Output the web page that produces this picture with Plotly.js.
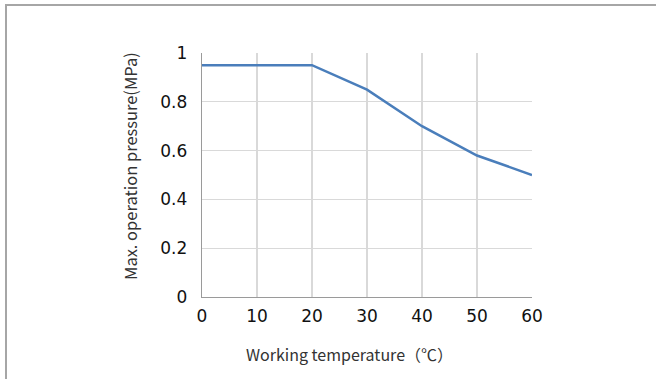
<!DOCTYPE html>
<html>
<head>
<meta charset="utf-8">
<script src="https://cdn.plot.ly/plotly-3.0.1.min.js"></script>
<style>
html,body{margin:0;padding:0;background:#fff;}
#frame{position:absolute;left:5px;top:4px;width:700px;height:400px;border-top:2px solid #a6a6a6;border-left:2px solid #a6a6a6;}
#chart{position:absolute;left:0;top:0;width:656px;height:379px;}
</style>
</head>
<body>
<div id="frame"></div>
<div id="chart"></div>
<script>
const temperature = [0, 10, 20, 30, 40, 50, 60];
const pressure = [0.95, 0.95, 0.95, 0.85, 0.70, 0.58, 0.50];
const pressureTicks = [0, 0.2, 0.4, 0.6, 0.8, 1];
const xTitle = 'Working temperature（℃）';
const yTitle = 'Max. operation pressure(MPa)';

const trace = {
  x: temperature, y: pressure, type: 'scatter', mode: 'lines',
  line: {color: '#4a7ebb', width: 2.5}, hoverinfo: 'skip'
};
const xTitleFont = {size: 16, family: '"Noto Sans CJK SC", "Noto Sans", sans-serif', color: '#333'};
const yTitleFont = {size: 16.5, family: '"Noto Sans CJK SC", "Noto Sans", sans-serif', color: '#333'};
const tickFont = {size: 17, family: '"DejaVu Sans", sans-serif', color: '#111'};
const layout = {
  width: 656, height: 379,
  margin: {l: 202, r: 124, t: 53, b: 82},
  paper_bgcolor: 'rgba(0,0,0,0)', plot_bgcolor: 'rgba(0,0,0,0)',
  showlegend: false,
  font: {family: '"DejaVu Sans", sans-serif', color: '#111', size: 17},
  xaxis: {
    range: [0, 60], tickvals: temperature, showgrid: true, gridcolor: '#d9d9d9', gridwidth: 1.3,
    showline: true, linecolor: '#9a9a9a', linewidth: 1.3, zeroline: false,
    ticks: '', ticklabelstandoff: 3, tickfont: tickFont
  },
  yaxis: {
    range: [0, 1], tickvals: pressureTicks, showgrid: true, gridcolor: '#d9d9d9', gridwidth: 1.3,
    showline: true, linecolor: '#9a9a9a', linewidth: 1.3, zeroline: false,
    ticks: '', ticklabelstandoff: 10, tickfont: tickFont
  },
  annotations: [
    {text: xTitle, xref: 'paper', yref: 'paper', x: (349 - 202) / 330, y: (297 - 354) / 244,
     xanchor: 'center', yanchor: 'middle', showarrow: false, font: xTitleFont},
    {text: yTitle, xref: 'paper', yref: 'paper', x: (130 - 202) / 330, y: (297 - 166) / 244,
     xanchor: 'center', yanchor: 'middle', textangle: -90, showarrow: false, font: yTitleFont}
  ]
};
Plotly.newPlot('chart', [trace], layout, {staticPlot: true, displayModeBar: false});
</script>
</body>
</html>
